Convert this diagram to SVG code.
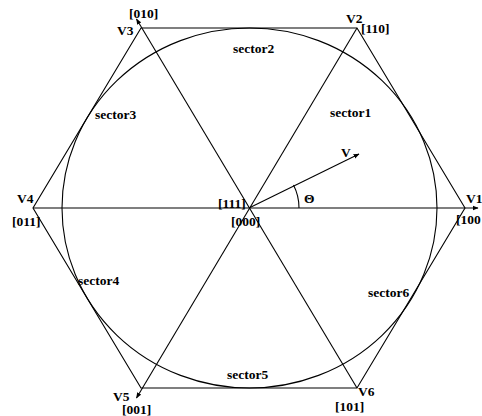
<svg xmlns="http://www.w3.org/2000/svg" width="482" height="416" viewBox="0 0 482 416">
<style>
.ln{stroke:#000;stroke-width:1.1;fill:none}
.t{font-family:"Liberation Serif","Times New Roman",serif;font-weight:bold;font-size:13.5px;fill:#000}
</style>
<defs>
<marker id="ah" viewBox="0 0 10 10" refX="9" refY="5" markerWidth="6" markerHeight="6" markerUnits="userSpaceOnUse" orient="auto">
<path d="M0,1 L10,5 L0,9 Z" fill="#000"/>
</marker>
</defs>
<rect width="482" height="416" fill="#fff"/>
<g id="connectors">
<polygon class="ln" points="465,208 357,28 141,28 33,208 141,388 357,388"/>
<ellipse class="ln" cx="249.5" cy="208" rx="187.5" ry="180"/>
<line class="ln" x1="33" y1="208" x2="478" y2="208" marker-end="url(#ah)"/>
<line class="ln" x1="357" y1="388" x2="136.5" y2="19" marker-end="url(#ah)"/>
<line class="ln" x1="357" y1="28" x2="136.5" y2="398" marker-end="url(#ah)"/>
<line class="ln" x1="249" y1="208" x2="359" y2="154" marker-end="url(#ah)"/>
<path class="ln" d="M299,208 A50,50 0 0 0 293.5,185"/>
</g>
<g id="v1"><text class="t" x="466" y="203">V1</text><text class="t" x="456" y="224">[100</text></g>
<g id="v2"><text class="t" x="346" y="23">V2</text><text class="t" x="361" y="33">[110]</text></g>
<g id="v3"><text class="t" x="117" y="35">V3</text><text class="t" x="129" y="18">[010]</text></g>
<g id="v4"><text class="t" x="17" y="203">V4</text><text class="t" x="12" y="226">[011]</text></g>
<g id="v5"><text class="t" x="113" y="401">V5</text><text class="t" x="122" y="414">[001]</text></g>
<g id="v6"><text class="t" x="358" y="396">V6</text><text class="t" x="335" y="411">[101]</text></g>
<g id="origin"><text class="t" x="218" y="208">[111]</text><text class="t" x="231" y="226">[000]</text></g>
<g id="vref"><text class="t" x="341" y="157">V</text><text class="t" x="304" y="203">Θ</text></g>
<g id="sectors">
<text class="t" x="330" y="117">sector1</text>
<text class="t" x="233" y="53">sector2</text>
<text class="t" x="95" y="119">sector3</text>
<text class="t" x="78" y="285">sector4</text>
<text class="t" x="227" y="379">sector5</text>
<text class="t" x="368" y="297">sector6</text>
</g>
</svg>
